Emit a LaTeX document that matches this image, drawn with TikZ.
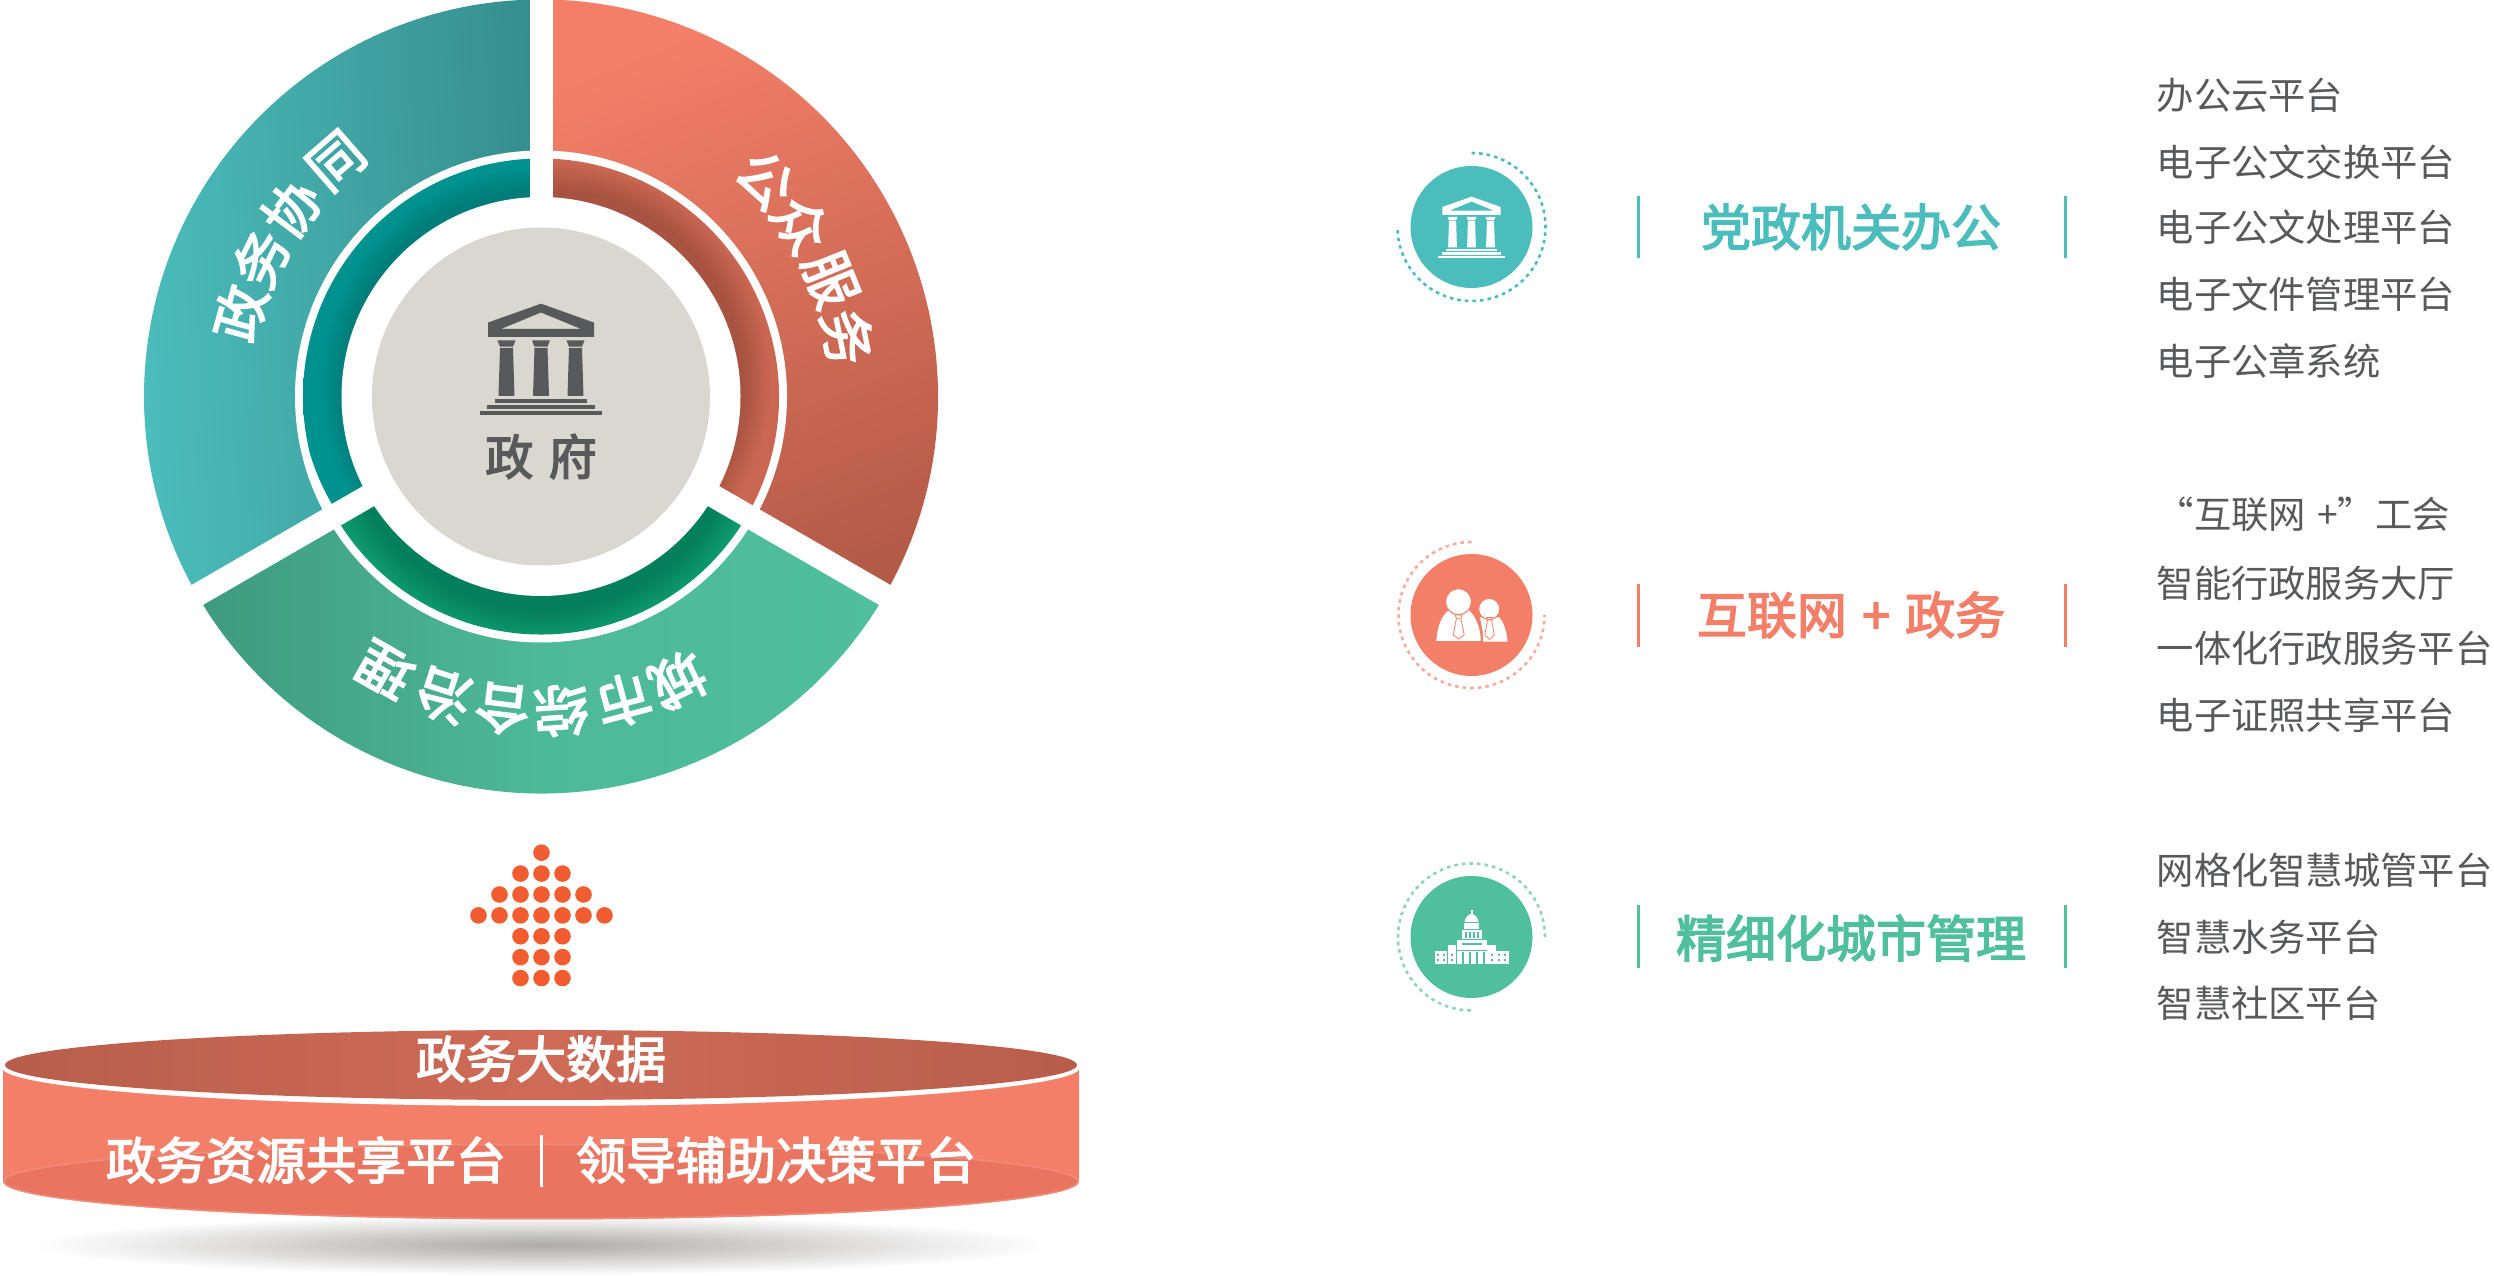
\documentclass[tikz,border=0pt]{standalone}
\usepackage{fontspec}
\setmainfont{Noto Sans CJK SC}
\newfontfamily\cjkmid[FakeBold=3]{Noto Sans CJK SC}
\usetikzlibrary{shadings}
\definecolor{tealc}{HTML}{4BBDBC}
\definecolor{tealdk}{HTML}{368E8E}
\definecolor{salmon}{HTML}{F47F68}
\definecolor{salmondk}{HTML}{B45B48}
\definecolor{greenc}{HTML}{50BF9B}
\definecolor{greendk}{HTML}{3E9A7E}
\definecolor{ringteal}{HTML}{00928F}
\definecolor{ringtealdk}{HTML}{007D7A}
\definecolor{ringsalmon}{HTML}{CA6752}
\definecolor{ringsalmondk}{HTML}{A85341}
\definecolor{ringgreen}{HTML}{0E9A6E}
\definecolor{ringgreendk}{HTML}{047F5B}
\definecolor{txtgray}{HTML}{58595B}
\definecolor{hubgray}{HTML}{DAD6D0}
\definecolor{dotorange}{HTML}{F15D31}
\definecolor{lidmid}{HTML}{CF6B57}
\definecolor{lidend}{HTML}{B75E4B}
\definecolor{basefill}{HTML}{E97560}
\definecolor{baserim}{HTML}{EF8C79}
\definecolor{shadowc}{HTML}{ADAAA8}
\pgfdeclareradialshading{tealring}{\pgfpointorigin}{color(0bp)=(ringtealdk); color(20.5bp)=(ringtealdk); color(23bp)=(ringteal); color(50bp)=(ringteal)}
\pgfdeclareradialshading{salmonring}{\pgfpointorigin}{color(0bp)=(ringsalmondk); color(20bp)=(ringsalmondk); color(23bp)=(ringsalmon); color(50bp)=(ringsalmon)}
\pgfdeclareradialshading{greenring}{\pgfpointorigin}{color(0bp)=(ringgreendk); color(21bp)=(ringgreendk); color(24bp)=(ringgreen); color(50bp)=(ringgreen)}
\tikzset{
  seglabel/.style={text=white,font=\cjkmid\fontsize{55}{55}\selectfont,inner sep=0pt},
  headlabel/.style={font=\cjkmid\fontsize{50}{50}\selectfont,inner sep=0pt},
  platlabel/.style={text=white,font=\cjkmid\fontsize{50}{50}\selectfont,inner sep=0pt},
  itemlabel/.style={text=txtgray,anchor=west,font=\fontsize{37.3}{37.3}\selectfont,inner sep=0pt},
  ringline/.style={line width=2.6pt,dash pattern=on 3.6pt off 4pt},
  sidebar/.style={line width=3pt},
  temple/.pic={
    \fill[even odd rule] (-53,59.5) -- (-53,73.9) -- (0,92.8) -- (53,73.9) -- (53,59.5) -- cycle
      (-40,67.5) -- (0,84) -- (40,67.5) -- cycle;
    \foreach \x in {-34.5,0,34.5} {
      \fill (\x-9,56) -- (\x+9,56) -- (\x+6.5,49.8) -- (\x-6.5,49.8) -- cycle;
      \fill (\x-6.5,48.5) -- (\x+6.5,48.5) -- (\x+8,0.5) -- (\x-8,0.5) -- cycle;
    }
    \fill (-46,-2.5) rectangle (46,-6.5);
    \fill (-54,-8.5) rectangle (54,-12.5);
    \fill (-61,-14.5) rectangle (61,-18.5);
  }
}
\begin{document}
\begin{tikzpicture}[x=1pt,y=1pt]
\useasboundingbox (0,2) rectangle (2494,1278);

\begin{scope}[shift={(541,881.5)}]
\shade[left color=tealc,middle color=tealc!82!tealdk,right color=tealdk,shading angle=93] (0,0) -- (90:397) arc [start angle=90,end angle=210,radius=397] -- cycle;
\shade[top color=salmon,bottom color=salmondk,shading angle=22] (0,0) -- (-30:397) arc [start angle=-30,end angle=90,radius=397] -- cycle;
\shade[left color=greendk,right color=greenc,middle color=greenc!85!greendk] (0,0) -- (210:397) arc [start angle=210,end angle=330,radius=397] -- cycle;
\fill[white] (0,0) circle [radius=246];
\begin{scope}
\clip (0,0) -- (90:238) arc [start angle=90,end angle=210,radius=238] -- cycle;
\shade[shading=tealring] (105:12) circle [radius=238];
\end{scope}
\begin{scope}
\clip (0,0) -- (-30:238) arc [start angle=-30,end angle=90,radius=238] -- cycle;
\shade[shading=salmonring] (55:20) circle [radius=238];
\end{scope}
\begin{scope}
\clip (0,0) -- (210:238) arc [start angle=210,end angle=330,radius=238] -- cycle;
\shade[shading=greenring] (270:14) circle [radius=238];
\end{scope}
\foreach \a in {90,210,330}
  \draw[white,line width=23pt] (0,0) -- (\a:420);
\fill[white] (0,0) circle [radius=199.5];
\node[circle,fill=hubgray,minimum size=338pt,inner sep=0pt] (hub) at (0,0) {};
\pic[color=txtgray] (hubicon) at (0,0) {temple};
\node[text=txtgray,font=\cjkmid\fontsize{48}{48}\selectfont,inner sep=0pt] (hubtext) at (0,-60) {政\hspace{15.5pt}府};
\foreach \c/\ang [count=\i] in {政/164.5,务/153.8,协/143,同/131}
  \node[seglabel,rotate=\ang-90] (left\i) at (\ang:312) {\c};
\foreach \c/\ang [count=\i] in {公/44,众/33.5,服/22,务/11}
  \node[seglabel,rotate=\ang-90] (right\i) at (\ang:312) {\c};
\foreach \c/\ang [count=\i] in {城/-64.2,市/-74.8,综/-86.3,合/-97,治/-108,理/-119.7}
  \node[seglabel,rotate=\ang-90] (low\i) at (\ang:315) {\c};
\end{scope}

\foreach \y/\xs [count=\r] in {425.3/{0},404.4/{-21,0,21},383.5/{-42,-21,0,21,42},362.6/{-63,-42,-21,0,21,42,63},341.7/{-21,0,21},320.8/{-21,0,21},299.9/{-21,0,21}}
  \foreach \x in \xs
    \fill[dotorange] (541.5+\x,\y) circle [radius=8.3];

\shade[inner color=shadowc,outer color=white] (541,33) ellipse [x radius=510,y radius=30];
\fill[salmon] (3,213) -- (3,96.5) arc [start angle=180,end angle=360,x radius=538,y radius=38] -- (1079,213) -- cycle;
\fill[basefill,draw=baserim,line width=1.5pt] (541,96.5) ellipse [x radius=537,y radius=37];
\fill[white] (541,210.5) ellipse [x radius=539,y radius=38.5];
\shade[left color=lidend,right color=lidend,middle color=lidmid] (541,213) ellipse [x radius=536,y radius=35];
\node[platlabel] (bigdata) at (541,219) {政务大数据};
\node[platlabel] (share) at (306,118) {政务资源共享平台};
\node[platlabel] (lead) at (776,118) {领导辅助决策平台};
\draw[white,line width=3pt] (541.5,143) -- (541.5,91);

\node[circle,fill=tealc,minimum size=122pt,inner sep=0pt] (icona) at (1471.5,1051) {};
\draw[tealc,ringline] (1471.5,1125) arc [start angle=90,end angle=-180,radius=74];
\pic[color=white,scale=0.55] (templea) at (1471.5,1030.3) {temple};

\node[circle,fill=salmon,minimum size=122pt,inner sep=0pt] (iconb) at (1471.5,663) {};
\draw[salmon!65!white,ringline] (1471.5,736) arc [start angle=90,end angle=360,radius=73];
\begin{scope}[shift={(1471.5,663)}]
\fill[white] (11.7,-26.7) -- (36,-26.7) .. controls (35,-12) and (30,-5) .. (27.7,-2.3) -- (8.3,-2.3) .. controls (10,-10) and (12,-18) .. (11.7,-26.7) -- cycle;
\fill[white,draw=salmon,line width=1pt] (-35.7,-26.7) .. controls (-35,-10) and (-30,0) .. (-23.3,5) -- (-1.7,5) .. controls (6,-3) and (10,-15) .. (9.7,-26.7) -- cycle;
\fill[white,draw=salmon,line width=1pt] (-13,13.3) circle [radius=13];
\fill[white,draw=salmon,line width=1pt] (17.7,6) circle [radius=10.6];
\draw[salmon,line width=.8pt] (-16.7,0) -- (-9.3,0) -- (-10.7,-3.3) -- (-15,-3.3) -- cycle (-15,-3.3) -- (-18.3,-20) -- (-12.7,-24) -- (-7.3,-20) -- (-10.7,-3.3);
\draw[salmon,line width=.8pt] (15,-2.5) -- (21,-2.5) -- (20,-5) -- (16,-5) -- cycle (16,-5) -- (13.3,-20) -- (18,-24.3) -- (22.7,-20) -- (20,-5);
\end{scope}

\node[circle,fill=greenc,minimum size=122pt,inner sep=0pt] (iconc) at (1471.5,341) {};
\draw[greenc!65!white,ringline] (1545,341) arc [start angle=0,end angle=270,radius=73.5];
\begin{scope}[shift={(1471.5,341)}]
\fill[white] (-1,21.5) rectangle (1,26.7);
\fill[white] (-7,15) .. controls (-6,20) and (-3,23) .. (0,23) .. controls (3,23) and (6,20) .. (7,15) -- cycle;
\fill[white] (-7.5,13.5) rectangle (7.5,8.3);
\fill[white] (-10,7.3) rectangle (10.5,-2.2);
\foreach \x in {-5.5,-1.5,2.5,6.5}
  \fill[greenc] (\x-.6,5) rectangle (\x+.6,-1.5);
\fill[white] (-14.5,-2.7) rectangle (15,-26.7);
\fill[greenc] (-10,-6.2) rectangle (10.5,-7.8);
\fill[greenc] (-14.5,-12.7) rectangle (15,-13.6);
\foreach \x in {-8.7,-1.7,5.3,12.3}
  \fill[greenc] (\x-1,-15.5) rectangle (\x+1,-26.7);
\fill[white] (-23.3,-7.7) rectangle (-15.2,-26.7);
\fill[white] (15.7,-7.7) rectangle (24,-26.7);
\fill[white] (-36.7,-14.3) rectangle (-24.2,-26.7);
\fill[white] (24.7,-14.3) rectangle (37,-26.7);
\foreach \x in {-33.5,-27.5,-20,20,27.7,33.7}
  \foreach \y in {-18,-23}
    \fill[greenc] (\x-1,\y-1) rectangle (\x+1,\y+1);
\end{scope}

\foreach \x in {1638,2065} {
  \draw[tealc,sidebar] (\x,1082) -- (\x,1020);
  \draw[salmon,sidebar] (\x,694) -- (\x,631);
  \draw[greenc,sidebar] (\x,373) -- (\x,310);
}
\node[headlabel,text=tealc] (heada) at (1851,1051) {党政机关办公};
\node[headlabel,text=salmon] (headb) at (1851,663) {互联网\hspace{4pt} + \hspace{4pt}政务};
\node[headlabel,text=greenc] (headc) at (1851,340) {精细化城市管理};

\foreach \t/\y [count=\i] in {办公云平台/1183,电子公文交换平台/1116,电子公文处理平台/1050.5,电子文件管理平台/984,电子公章系统/917}
  \node[itemlabel] (itema\i) at (2156.5,\y) {\t};
\foreach \t/\y [count=\i] in {“互联网\hspace{3pt} +”工会/764,智能行政服务大厅/695,一体化行政服务平台/630,电子证照共享平台/563}
  \node[itemlabel] (itemb\i) at (2156.5,\y) {\t};
\foreach \t/\y [count=\i] in {网格化智慧城管平台/408,智慧水务平台/341,智慧社区平台/275}
  \node[itemlabel] (itemc\i) at (2156.5,\y) {\t};
\end{tikzpicture}
\end{document}
